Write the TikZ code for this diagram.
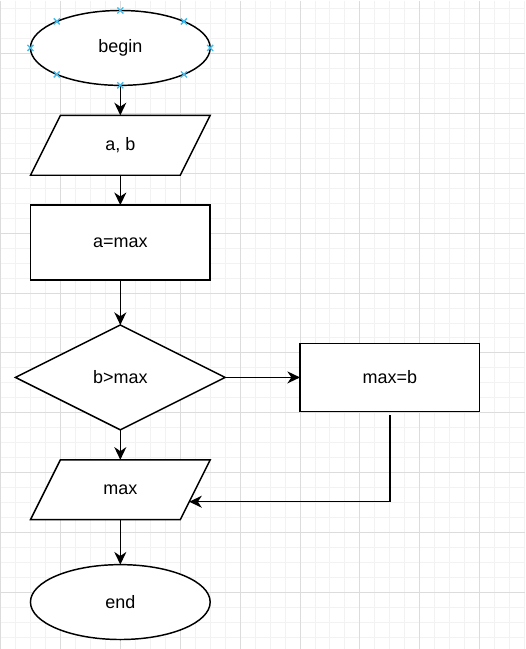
\documentclass[tikz,border=0pt]{standalone}
\usepackage{fontspec}
\setmainfont{Liberation Sans}
\usetikzlibrary{arrows.meta,positioning,calc,shapes.geometric}
\definecolor{GridMinor}{HTML}{F2F2F2}
\definecolor{GridMajor}{HTML}{DCDCDC}
\definecolor{Handle}{HTML}{3FBCEF}
\pgfdeclarelayer{grid}
\pgfdeclarelayer{frame}
\pgfsetlayers{grid,frame,main}
\tikzset{
  term/.style={ellipse,draw=black,fill=white,line width=1.1pt,minimum width=135pt,minimum height=56.25pt,inner sep=0pt,outer sep=0pt,font=\fontsize{13.5}{16}\selectfont},
  io/.style={rectangle,minimum width=112.5pt,minimum height=45pt,inner sep=0pt,outer sep=0pt,font=\fontsize{13.5}{16}\selectfont},
  ioframe/.style={draw=black,fill=white,line width=1.1pt,line join=miter},
  proc/.style={rectangle,draw=black,fill=white,line width=1.1pt,minimum width=135pt,minimum height=56.25pt,inner sep=0pt,outer sep=0pt,font=\fontsize{13.5}{16}\selectfont},
  decision/.style={diamond,draw=black,fill=white,line width=1.1pt,minimum width=157.5pt,minimum height=78.75pt,inner sep=0pt,outer sep=0pt,font=\fontsize{13.5}{16}\selectfont},
  flow/.style={-{Stealth[length=9.5pt,width=9pt,inset=3pt]},draw=black,line width=1.1pt},
  handle/.style={draw=Handle,line width=1pt},
  minorline/.style={draw=GridMinor,line width=0.75pt},
  majorline/.style={draw=GridMajor,line width=0.75pt}
}
\begin{document}
\begin{tikzpicture}[x=0.75pt,y=-0.75pt]
      % grid
      \begin{pgfonlayer}{grid}
      \fill[white] (0,0) rectangle (525,649);
      \foreach \x in {15,30,...,525} \draw[minorline] (\x,0) -- (\x,649);
      \foreach \y in {8,23,...,649} \draw[minorline] (0,\y) -- (525,\y);
      \foreach \x in {0,60,...,480} \draw[majorline] (\x,0) -- (\x,649);
      \foreach \y in {53,113,...,649} \draw[majorline] (0,\y) -- (525,\y);
      \end{pgfonlayer}
      \useasboundingbox (0,0) rectangle (525,649);
      % chart
      \node[term] (begin) at (120,47.5) {begin};
      \node[io,below=22.5pt of begin] (input) {a, b};
      \node[proc,below=22.5pt of input] (init) {a=max};
      \node[decision,below=33.75pt of init] (test) {b>max};
      \node[proc,minimum height=51pt,right=56.25pt of test] (update) {max=b};
      \node[io,below=22.5pt of test] (output) {max};
      \node[term,below=33.75pt of output] (finish) {end};
      % slanted frames of the io nodes
      \begin{pgfonlayer}{frame}
      \foreach \n in {input,output}
        \draw[ioframe] ([xshift=11.25pt]\n.north west) -- ([xshift=11.25pt]\n.north east)
          -- ([xshift=-11.25pt]\n.south east) -- ([xshift=-11.25pt]\n.south west) -- cycle;
      \end{pgfonlayer}
      \draw[flow] (begin) -- (input);
      \draw[flow] (input) -- (init);
      \draw[flow] (init) -- (test);
      \draw[flow] (test) -- (update);
      \draw[flow] (test) -- (output);
      \draw[flow] (output) -- (finish);
      \coordinate (join) at ($([xshift=11.25pt]output.north east)!0.7!([xshift=-11.25pt]output.south east)$);
      \draw[flow] ([yshift=-3pt]update.south) |- (join);
      % selection handles
      \foreach \a in {north,north east,east,south east,south,south west,west,north west}
        \draw[handle] (begin.\a) +(-3,-3) -- +(3,3) +(-3,3) -- +(3,-3);
    \end{tikzpicture}
\end{document}
